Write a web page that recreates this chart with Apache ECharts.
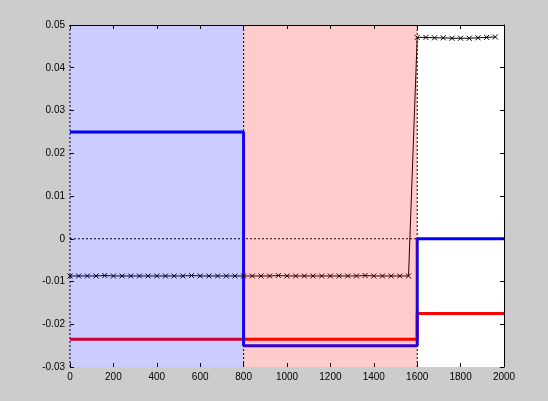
<!DOCTYPE html>
<html>
<head>
<meta charset="utf-8">
<script src="https://cdn.jsdelivr.net/npm/echarts@6/dist/echarts.min.js"></script>
<style>
html,body{margin:0;padding:0;background:#cccccc;}
#c{width:548px;height:401px;}
</style>
</head>
<body>
<div id="c"></div>
<script>
// ---- data ----
var xTicks = [0, 200, 400, 600, 800, 1000, 1200, 1400, 1600, 1800, 2000];
var yTicks = [-0.03, -0.02, -0.01, 0, 0.01, 0.02, 0.03, 0.04, 0.05];
var regionBounds = [0, 800, 1600];           // shaded phases
var blueStepX = [0, 800, 800, 1600, 1600, 2000];
var blueStepY = [0.025, 0.025, -0.025, -0.025, 0, 0];
var redStepX = [0, 1600, 1600, 2000];
var redStepY = [-0.0235, -0.0235, -0.0175, -0.0175];
var markX = [0,40,80,120,160,200,240,280,320,360,400,440,480,520,560,600,640,680,720,760,
             800,840,880,920,960,1000,1040,1080,1120,1160,1200,1240,1280,1320,1360,1400,1440,1480,1520,1560,
             1600,1640,1680,1720,1760,1800,1840,1880,1920,1960];
var markY = [-0.0087,-0.0087,-0.0087,-0.0087,-0.0086,-0.0087,-0.0087,-0.0087,-0.0087,-0.0087,
             -0.0087,-0.0087,-0.0087,-0.0087,-0.0086,-0.0087,-0.0087,-0.0087,-0.0087,-0.0087,
             -0.0087,-0.0087,-0.0087,-0.0087,-0.0086,-0.0087,-0.0087,-0.0087,-0.0087,-0.0087,
             -0.0087,-0.0087,-0.0087,-0.0087,-0.0086,-0.0087,-0.0087,-0.0087,-0.0087,-0.0087,
             0.0471,0.0471,0.0470,0.0470,0.0469,0.0469,0.0469,0.0470,0.0471,0.0472];

function zip(xs, ys){ return xs.map(function(x,i){ return [x, ys[i]]; }); }

var chart = echarts.init(document.getElementById('c'));
var labelStyle = {color:'#000', fontSize:10, fontFamily:'Liberation Sans, Arial, sans-serif'};
var dotted = {color:'#000', width:1, type:[2,2]};

var option = {
  backgroundColor:'#cccccc',
  animation:false,
  grid:{left:70, right:44, top:25, bottom:34, show:true, backgroundColor:'#ffffff', borderWidth:0},
  xAxis:[
    {type:'value', min:0, max:2000, interval:200, position:'bottom',
     axisLine:{show:false, onZero:false}, splitLine:{show:false},
     axisTick:{show:true, inside:true, length:4, lineStyle:{color:'#000'}},
     axisLabel:Object.assign({margin:5, formatter:function(v){return String(v);}}, labelStyle)},
    {type:'value', min:0, max:2000, interval:200, position:'top', z:10,
     axisLine:{show:true, onZero:false, lineStyle:{color:'#000', width:1}}, splitLine:{show:false},
     axisTick:{show:true, inside:true, length:4, lineStyle:{color:'#000'}},
     axisLabel:{show:false}}
  ],
  yAxis:[
    {type:'value', min:-0.03, max:0.05, interval:0.01, position:'left',
     axisLine:{show:false, onZero:false}, splitLine:{show:false},
     axisTick:{show:true, inside:true, length:4, lineStyle:{color:'#000'}},
     axisLabel:Object.assign({margin:5, formatter:function(v){return String(Number(v.toFixed(2)));}}, labelStyle)},
    {type:'value', min:-0.03, max:0.05, interval:0.01, position:'right', z:10,
     axisLine:{show:true, onZero:false, lineStyle:{color:'#000', width:1}}, splitLine:{show:false},
     axisTick:{show:true, inside:true, length:4, lineStyle:{color:'#000'}},
     axisLabel:{show:false}}
  ],
  series:[
    {type:'line', z:2, silent:true, symbol:'none', data:zip([0,2000],[0,0]), lineStyle:dotted},
    {type:'line', z:2, silent:true, symbol:'none', data:zip([regionBounds[0],regionBounds[0]],[-0.03,0.05]), lineStyle:dotted},
    {type:'line', z:2, silent:true, symbol:'none', data:zip([regionBounds[1],regionBounds[1]],[-0.03,0.05]), lineStyle:dotted},
    {type:'line', z:2, silent:true, symbol:'none', data:zip([regionBounds[2],regionBounds[2]],[-0.03,0.05]), lineStyle:dotted},
    {type:'line', z:3, silent:true, symbol:'none', data:zip(redStepX, redStepY), lineStyle:{color:'#ff0000', width:3}},
    {type:'line', z:4, silent:true, symbol:'none', data:zip(blueStepX, blueStepY), lineStyle:{color:'#0000ff', width:3}},
    {type:'line', z:5, silent:true, data:zip(markX, markY),
     symbol:'path://M0,0 L10,10 M10,0 L0,10', symbolSize:5, showAllSymbol:true,
     itemStyle:{color:'none', borderColor:'#000', borderWidth:1},
     lineStyle:{color:'#000', width:1}},
    {type:'line', z:8, silent:true, symbol:'none', data:[],
     markArea:{z:8, silent:true, itemStyle:{color:'rgba(0,0,255,0.2)', borderWidth:0},
       data:[[{xAxis:regionBounds[0]},{xAxis:regionBounds[1]}]]}},
    {type:'line', z:8, silent:true, symbol:'none', data:[],
     markArea:{z:8, silent:true, itemStyle:{color:'rgba(255,0,0,0.2)', borderWidth:0},
       data:[[{xAxis:regionBounds[1]},{xAxis:regionBounds[2]}]]}}
  ]
};
chart.setOption(option);
</script>
</body>
</html>
